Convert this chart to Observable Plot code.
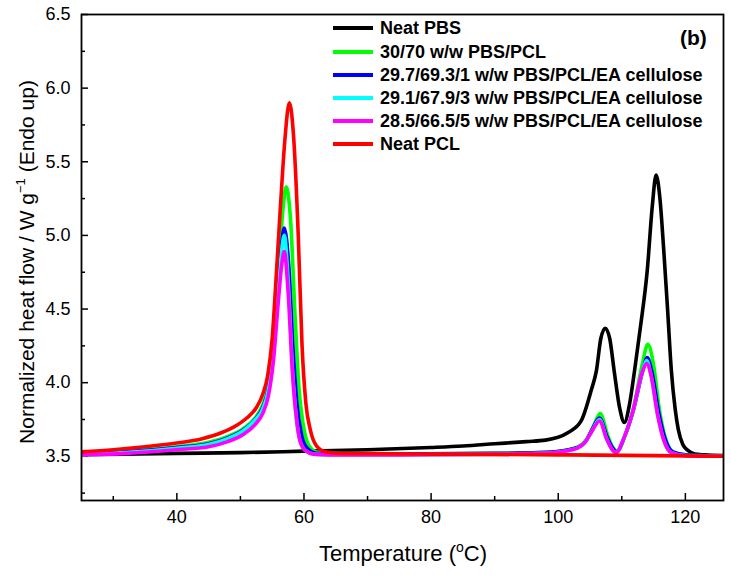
<!DOCTYPE html>
<html>
<head>
<meta charset="utf-8">
<script src="https://cdn.jsdelivr.net/npm/d3@7"></script>
<script src="https://cdn.jsdelivr.net/npm/@observablehq/plot@0.6"></script>
<style>
  html, body { margin: 0; padding: 0; background: #fff; }
  #wrap { position: relative; width: 731px; height: 578px; font-family: "Liberation Sans", Arial, sans-serif; }
  #legend { position: absolute; left: 0; top: 0; width: 731px; height: 578px; pointer-events: none; }
  .row { position: absolute; left: 333px; height: 22px; display: flex; align-items: center; }
  .swatch { width: 40px; height: 4px; margin-right: 7px; }
  .lab { font-weight: bold; font-size: 18px; color: #000; white-space: nowrap; }
  #tag { position: absolute; left: 680px; top: 26px; font-weight: bold; font-size: 21px; }
</style>
</head>
<body>
<div id="wrap"><div id="legend"></div></div>
<script>
// ---- data ----
const seriesNames = [
  "Neat PBS",
  "30/70 w/w PBS/PCL",
  "29.7/69.3/1 w/w PBS/PCL/EA cellulose",
  "29.1/67.9/3 w/w PBS/PCL/EA cellulose",
  "28.5/66.5/5 w/w PBS/PCL/EA cellulose",
  "Neat PCL"
];
const seriesColors = ["#000000", "#00ff00", "#0000ff", "#00ffff", "#ff00ff", "#ff0000"];

const pbsT = [25, 40, 50, 60, 70, 80, 85, 90, 95, 98, 101.5, 103.6, 105.2, 106.0, 106.7, 107.4, 108.1, 108.8, 109.7, 110.4, 111.2, 112.0, 113.0, 114.0, 114.8, 115.4, 116.0, 116.6, 117.2, 117.8, 118.4, 118.9, 119.6, 120.4, 121.5, 123, 126];
const pbsV = [3.51, 3.52, 3.525, 3.535, 3.545, 3.56, 3.57, 3.585, 3.6, 3.61, 3.66, 3.74, 3.95, 4.08, 4.3, 4.37, 4.3, 4.08, 3.82, 3.73, 3.85, 4.08, 4.4, 4.76, 5.2, 5.41, 5.25, 4.9, 4.5, 4.08, 3.82, 3.68, 3.58, 3.54, 3.515, 3.51, 3.505];

const b3070T = [25, 32, 40, 45, 48, 50.5, 52.3, 53.5, 54.4, 55.2, 56.0, 56.7, 57.2, 57.9, 58.6, 59.2, 59.9, 60.7, 62, 64, 75, 90, 97, 101, 103, 104.4, 105.5, 106.6, 107.8, 108.6, 109.3, 110.4, 111.8, 113.2, 114.1, 115.0, 115.9, 116.9, 118.1, 120, 126];
const b3070V = [3.52, 3.535, 3.565, 3.595, 3.635, 3.69, 3.76, 3.85, 3.98, 4.25, 4.75, 5.18, 5.33, 5.1, 4.45, 3.97, 3.71, 3.58, 3.53, 3.52, 3.515, 3.52, 3.525, 3.54, 3.56, 3.61, 3.7, 3.79, 3.64, 3.56, 3.535, 3.63, 3.82, 4.12, 4.26, 4.12, 3.82, 3.62, 3.53, 3.51, 3.5];

const ea1T = [25, 32, 40, 45, 48, 50.5, 52.3, 53.5, 54.4, 55.2, 56.0, 56.5, 56.9, 57.6, 58.3, 58.9, 59.6, 60.4, 62, 64, 75, 90, 97, 101, 103, 104.3, 105.3, 106.5, 107.7, 108.5, 109.2, 110.4, 111.8, 113.3, 114.0, 114.8, 115.8, 116.8, 118.0, 120, 126];
const ea1V = [3.515, 3.53, 3.56, 3.585, 3.625, 3.68, 3.75, 3.83, 3.96, 4.22, 4.7, 4.95, 5.05, 4.8, 4.22, 3.86, 3.65, 3.56, 3.52, 3.515, 3.515, 3.52, 3.525, 3.54, 3.56, 3.6, 3.68, 3.76, 3.63, 3.56, 3.53, 3.63, 3.81, 4.08, 4.17, 4.06, 3.8, 3.62, 3.53, 3.51, 3.5];

const ea3T = [25, 32, 40, 45, 48, 50.5, 52.3, 53.5, 54.4, 55.2, 56.0, 56.5, 56.9, 57.5, 58.2, 58.8, 59.4, 60.2, 61.5, 64, 75, 90, 97, 101, 103, 104.3, 105.3, 106.5, 107.6, 108.4, 109.1, 110.3, 111.7, 113.2, 113.9, 114.6, 115.6, 116.6, 117.8, 120, 126];
const ea3V = [3.51, 3.525, 3.555, 3.58, 3.62, 3.675, 3.745, 3.82, 3.95, 4.2, 4.65, 4.9, 5.0, 4.7, 4.08, 3.76, 3.6, 3.54, 3.515, 3.51, 3.51, 3.515, 3.52, 3.535, 3.555, 3.6, 3.67, 3.75, 3.62, 3.55, 3.525, 3.62, 3.8, 4.07, 4.15, 4.05, 3.79, 3.61, 3.525, 3.505, 3.5];

const ea5T = [25, 32, 40, 45, 48, 50.5, 52.3, 53.5, 54.4, 55.2, 56.0, 56.5, 56.9, 57.5, 58.2, 58.8, 59.4, 60.2, 61.5, 64, 75, 90, 97, 101, 103, 104.3, 105.3, 106.5, 107.6, 108.4, 109.1, 110.3, 111.7, 113.2, 113.9, 114.6, 115.6, 116.6, 117.8, 120, 126];
const ea5V = [3.51, 3.52, 3.545, 3.565, 3.6, 3.65, 3.715, 3.79, 3.91, 4.15, 4.57, 4.8, 4.89, 4.62, 4.06, 3.76, 3.6, 3.54, 3.515, 3.51, 3.51, 3.515, 3.52, 3.535, 3.555, 3.6, 3.67, 3.74, 3.62, 3.55, 3.525, 3.62, 3.8, 4.07, 4.13, 4.05, 3.79, 3.61, 3.525, 3.505, 3.5];

const pclT = [25, 30, 35, 40, 44, 47, 49, 51, 52.5, 53.5, 54.3, 55.0, 55.6, 56.3, 57.0, 57.7, 58.4, 59.1, 59.7, 60.3, 61.0, 62.0, 63.5, 66, 80, 100, 115, 126];
const pclV = [3.53, 3.545, 3.565, 3.59, 3.62, 3.66, 3.7, 3.76, 3.83, 3.92, 4.05, 4.3, 4.7, 5.2, 5.65, 5.9, 5.65, 5.0, 4.25, 3.86, 3.68, 3.57, 3.53, 3.52, 3.515, 3.51, 3.505, 3.5];

const xMajor = [40, 60, 80, 100, 120];
const xMinor = [30, 50, 70, 90, 110];
const yMajor = [3.5, 4.0, 4.5, 5.0, 5.5, 6.0, 6.5];
const yMinor = [3.25, 3.75, 4.25, 4.75, 5.25, 5.75, 6.25];

const temps = [pbsT, b3070T, ea1T, ea3T, ea5T, pclT];
const vals = [pbsV, b3070V, ea1V, ea3V, ea5V, pclV];
const rows = [];
temps.forEach((T, i) => T.forEach((t, j) => rows.push({series: seriesNames[i], T: t, v: vals[i][j]})));

const plot = Plot.plot({
  width: 731,
  height: 578,
  marginLeft: 81,
  marginRight: 8,
  marginTop: 14,
  marginBottom: 78,
  style: {fontFamily: "'Liberation Sans', Arial, sans-serif", fontSize: "18px", color: "#000", background: "#fff"},
  x: {domain: [25, 126]},
  y: {domain: [3.2, 6.5]},
  color: {domain: seriesNames, range: seriesColors},
  marks: [
    Plot.axisX(xMajor, {tickSize: -7, tickFormat: () => "", label: null, strokeWidth: 1.5}),
    Plot.axisX(xMinor, {tickSize: -4, tickFormat: () => "", label: null, strokeWidth: 1.5}),
    Plot.axisX(xMajor, {tickSize: 0, tickPadding: 10, label: null, fontSize: 18}),
    Plot.axisY(yMajor, {tickSize: -7, tickFormat: () => "", label: null, strokeWidth: 1.5}),
    Plot.axisY(yMinor, {tickSize: -4, tickFormat: () => "", label: null, strokeWidth: 1.5}),
    Plot.axisY(yMajor, {tickSize: 0, tickPadding: 11, tickFormat: d3.format(".1f"), label: null, fontSize: 18}),
    Plot.line(rows, {x: "T", y: "v", z: "series", stroke: "series", strokeWidth: 3.6, curve: "monotone-x", clip: true}),
    Plot.frame({stroke: "#000", strokeWidth: 1.8})
  ]
});

const svg = d3.select(plot);
// x axis label
const xl = svg.append("text")
  .attr("x", 403).attr("y", 561)
  .attr("text-anchor", "middle")
  .attr("font-size", 22).attr("fill", "#000");
xl.append("tspan").text("Temperature (");
xl.append("tspan").attr("font-size", 14).attr("dy", -9).text("o");
xl.append("tspan").attr("dy", 9).text("C)");
// y axis label
const yl = svg.append("text")
  .attr("transform", "translate(34,262) rotate(-90)")
  .attr("text-anchor", "middle")
  .attr("font-size", 21).attr("fill", "#000");
yl.append("tspan").text("Normalized heat flow / W g");
yl.append("tspan").attr("font-size", 13).attr("dy", -9).text("\u22121");
yl.append("tspan").attr("dy", 9).text(" (Endo up)");

document.getElementById("wrap").prepend(plot);

// legend
const legend = document.getElementById("legend");
const rowTops = [17, 41, 64, 87, 110, 133];
seriesNames.forEach((name, i) => {
  const r = document.createElement("div");
  r.className = "row";
  r.style.top = rowTops[i] + "px";
  const sw = document.createElement("div");
  sw.className = "swatch";
  sw.style.background = seriesColors[i];
  const lb = document.createElement("span");
  lb.className = "lab";
  lb.textContent = name;
  r.appendChild(sw); r.appendChild(lb);
  legend.appendChild(r);
});
const tag = document.createElement("div");
tag.id = "tag"; tag.textContent = "(b)";
legend.appendChild(tag);
</script>
</body>
</html>
